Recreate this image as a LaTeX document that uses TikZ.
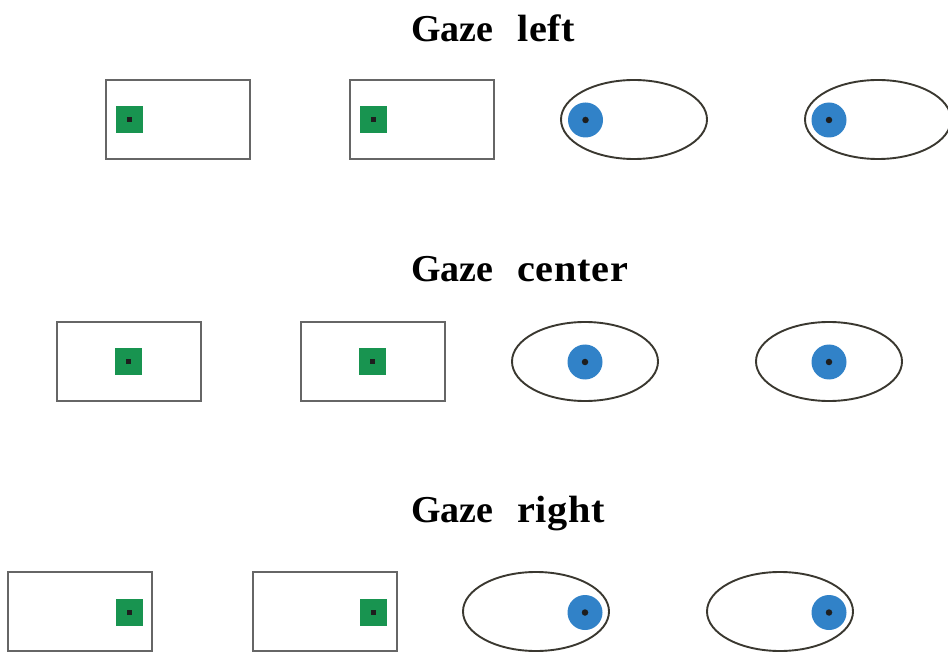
\documentclass[tikz,border=0pt]{standalone}
\usepackage{fontspec}
\setmainfont{Liberation Serif}
\usetikzlibrary{shapes.geometric}
\definecolor{framegray}{RGB}{102,102,102}
\definecolor{eyeline}{RGB}{58,56,48}
\definecolor{targetgreen}{RGB}{24,148,80}
\definecolor{irisblue}{RGB}{49,130,200}
\definecolor{dotblack}{RGB}{30,30,30}
% slightly wider setting for the direction word of each heading
\newcommand{\spreadword}[1]{\scalebox{1.06}[1]{\addfontfeature{LetterSpace=2}#1}}
\begin{document}
\begin{tikzpicture}[x=1pt,y=-1pt,
  screen/.style={draw=framegray,line width=2pt,fill=white,rectangle,
    minimum width=144pt,minimum height=79pt,inner sep=0pt},
  target/.style={fill=targetgreen,rectangle,minimum size=27pt,inner sep=0pt},
  fixdot/.style={fill=dotblack,rectangle,minimum size=5pt,inner sep=0pt},
  eye/.style={draw=eyeline,line width=1.9pt,ellipse,
    minimum width=146pt,minimum height=79pt,inner sep=0pt},
  iris/.style={fill=irisblue,circle,minimum size=35pt,inner sep=0pt},
  pupil/.style={fill=dotblack,circle,minimum size=6.5pt,inner sep=0pt},
  heading/.style={anchor=base west,inner sep=0pt,
    font=\fontsize{38}{40}\selectfont\bfseries}]
\useasboundingbox (0,0) rectangle (948,652);

% ---- Gaze left ----
\node[heading] (t1) at (411,41.5) {Gaze\hspace{0.62em}\spreadword{left}};
\node[screen] (s1a) at (178,119.5) {};
\node[screen] (s1b) at (421.5,119.5) {};
\node[target] (g1a) at (129,119.5) {};
\node[target] (g1b) at (373,119.5) {};
\node[fixdot] (d1a) at (g1a) {};
\node[fixdot] (d1b) at (g1b) {};
\node[eye] (e1a) at (634,119.5) {};
\node[eye] (e1b) at (878,119.5) {};
\node[iris] (i1a) at (585.5,120) {};
\node[iris] (i1b) at (829,120) {};
\node[pupil] (p1a) at (i1a) {};
\node[pupil] (p1b) at (i1b) {};

% ---- Gaze center ----
\node[heading] (t2) at (411,281.5) {Gaze\hspace{0.62em}\spreadword{center}};
\node[screen] (s2a) at (128.5,361.5) {};
\node[screen] (s2b) at (372.5,361.5) {};
\node[target] (g2a) at (128.5,361.5) {};
\node[target] (g2b) at (372.5,361.5) {};
\node[fixdot] (d2a) at (g2a) {};
\node[fixdot] (d2b) at (g2b) {};
\node[eye] (e2a) at (585,361.5) {};
\node[eye] (e2b) at (829,361.5) {};
\node[iris] (i2a) at (585,362) {};
\node[iris] (i2b) at (829,362) {};
\node[pupil] (p2a) at (i2a) {};
\node[pupil] (p2b) at (i2b) {};

% ---- Gaze right ----
\node[heading] (t3) at (411,522.5) {Gaze\hspace{0.62em}\spreadword{right}};
\node[screen] (s3a) at (80,611.5) {};
\node[screen] (s3b) at (324.5,611.5) {};
\node[target] (g3a) at (129,612) {};
\node[target] (g3b) at (373,612) {};
\node[fixdot] (d3a) at (g3a) {};
\node[fixdot] (d3b) at (g3b) {};
\node[eye] (e3a) at (536,611.5) {};
\node[eye] (e3b) at (780,611.5) {};
\node[iris] (i3a) at (585,612.5) {};
\node[iris] (i3b) at (829,612.5) {};
\node[pupil] (p3a) at (i3a) {};
\node[pupil] (p3b) at (i3b) {};
\end{tikzpicture}
\end{document}
